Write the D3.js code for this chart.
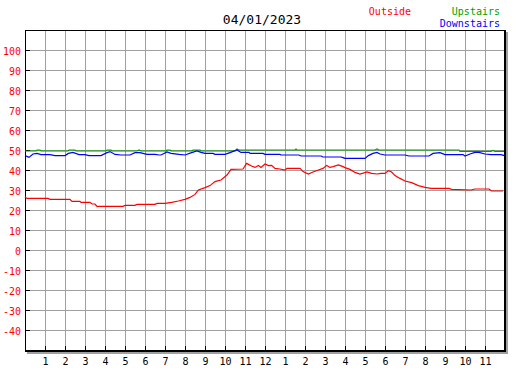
<!DOCTYPE html>
<html>
<head>
<meta charset="utf-8">
<script src="https://cdnjs.cloudflare.com/ajax/libs/d3/7.8.5/d3.min.js"></script>
<style>
  body { margin: 0; background: #fff; }
  svg { display: block; }
  text { font-family: "DejaVu Sans Mono", monospace; }
</style>
</head>
<body>
<div id="chart"></div>
<script>
// hours since midnight, readings in degrees
var outsideHours = [0, 0.1, 1.15, 1.25, 2.25, 2.35, 2.75, 2.8, 3.25, 3.35, 3.5, 3.6, 4.9, 5, 5.5, 5.6, 6.5, 6.6, 7, 7.33, 7.67, 8, 8.25, 8.5, 8.67, 9, 9.25, 9.5, 9.8, 10.1, 10.3, 10.9, 11.08, 11.33, 11.5, 11.67, 11.8, 12, 12.17, 12.33, 12.5, 12.75, 13, 13.1, 13.75, 13.9, 14.17, 14.4, 14.67, 14.9, 15.08, 15.25, 15.4, 15.67, 15.9, 16, 16.25, 16.5, 16.75, 17.1, 17.33, 17.6, 17.8, 18, 18.17, 18.33, 18.5, 18.75, 19, 19.33, 19.67, 20, 20.3, 21.2, 21.33, 22.3, 22.5, 23.2, 23.33, 23.9];
var outsideTemps = [26.5, 25.8, 25.8, 25.3, 25.3, 24.3, 24.3, 23.8, 23.8, 23, 23, 21.8, 21.8, 22.3, 22.3, 22.8, 22.8, 23.3, 23.3, 23.8, 24.5, 25.3, 26.3, 27.8, 30, 31.2, 32.2, 34.2, 35, 37.5, 40.3, 40.5, 43.3, 42, 41.3, 42.3, 41.3, 43, 42.2, 42.3, 40.8, 40.5, 40, 40.8, 40.8, 39.2, 38, 39, 40, 40.8, 42.3, 41.3, 41.7, 42.5, 41.7, 41.2, 40.3, 38.8, 38, 39, 38.3, 38, 38.3, 38.3, 39.7, 39, 37.2, 35.8, 34.5, 33.7, 32.2, 31.3, 30.8, 30.8, 30.3, 30, 30.5, 30.5, 29.5, 29.5];

var upstairsHours = [0, 0.55, 0.6, 0.75, 0.8, 2.15, 2.2, 2.5, 2.55, 4.05, 4.1, 4.3, 4.35, 5.6, 5.7, 5.8, 7.05, 7.1, 7.25, 7.3, 8.35, 8.4, 8.75, 8.8, 10.5, 10.6, 10.7, 13.5, 13.55, 13.6, 17.5, 17.6, 17.7, 21.7, 21.75, 23.3, 23.4, 23.5, 23.95];
var upstairsTemps = [49.5, 49.5, 50, 50, 49.5, 49.5, 50, 50, 49.5, 49.5, 50, 50, 49.5, 49.5, 50, 49.5, 49.5, 50, 50, 49.5, 49.5, 50, 50, 49.5, 49.5, 50.5, 50, 50, 50.5, 50, 50, 50.5, 50, 50, 49.3, 49.3, 49.8, 49.3, 49.3];

var downstairsHours = [0, 0.2, 0.4, 0.6, 0.8, 1.25, 1.5, 2, 2.17, 2.4, 2.7, 3, 3.2, 3.8, 4.1, 4.25, 4.5, 4.8, 5.25, 5.5, 5.75, 6.1, 6.5, 6.7, 6.8, 7.1, 7.3, 7.7, 8, 8.33, 8.6, 8.8, 9, 9.4, 9.5, 10, 10.25, 10.6, 10.8, 11.2, 11.25, 11.9, 12, 12.75, 12.8, 13.7, 13.8, 14.8, 14.9, 15.8, 15.9, 16, 17, 17.17, 17.4, 17.6, 17.75, 18, 19, 19.2, 20.2, 20.4, 20.75, 21, 21.9, 22, 22.25, 22.5, 22.7, 23, 23.3, 23.8, 23.97];
var downstairsTemps = [47.2, 46.3, 48, 48.3, 47.7, 47.7, 47.2, 47.2, 48.3, 48.8, 47.7, 47.7, 47.2, 47.2, 48.7, 49.2, 47.8, 47.5, 47.5, 48.7, 48.7, 47.8, 47.8, 47.5, 47.5, 49, 48.3, 47.8, 47.5, 48.7, 49.5, 48.8, 48.3, 48.3, 47.8, 47.8, 48.7, 50, 48.8, 48.8, 48.3, 48.3, 47.8, 47.8, 47.5, 47.5, 47, 47, 46.5, 46.5, 46.2, 45.8, 45.8, 47.2, 48.3, 48.8, 48, 47.5, 47.5, 47, 47, 48.3, 48.7, 47.7, 47.7, 47, 48, 48.8, 48.8, 48, 47.7, 47.7, 47.2];

var yTicks = [100, 90, 80, 70, 60, 50, 40, 30, 20, 10, 0, -10, -20, -30, -40];
var hourTicks = d3.range(1, 24);
var hourLabels = ["1", "2", "3", "4", "5", "6", "7", "8", "9", "10", "11", "12",
                  "1", "2", "3", "4", "5", "6", "7", "8", "9", "10", "11"];

var w = 527, h = 370;
var plotLeft = 25, plotRight = 505, plotTop = 30, plotBottom = 350;

var svg = d3.select("#chart").append("svg")
  .attr("width", w)
  .attr("height", h);

svg.append("rect").attr("width", w).attr("height", h).attr("fill", "#fff");

var x = d3.scaleLinear().domain([0, 24]).range([plotLeft, plotRight]);
var y = d3.scaleLinear().domain([-50, 110]).range([plotBottom, plotTop]);

// grid
var grid = svg.append("g").attr("shape-rendering", "crispEdges").attr("stroke", "#a0a0a0");
grid.selectAll("line.v").data(hourTicks).enter().append("line")
  .attr("x1", function (d) { return x(d) + 0.5; })
  .attr("x2", function (d) { return x(d) + 0.5; })
  .attr("y1", plotTop).attr("y2", plotBottom);
grid.selectAll("line.h").data(yTicks).enter().append("line")
  .attr("x1", plotLeft).attr("x2", plotRight)
  .attr("y1", function (d) { return y(d) + 0.5; })
  .attr("y2", function (d) { return y(d) + 0.5; });

// shadow and frame
var frame = svg.append("g").attr("shape-rendering", "crispEdges");
frame.append("rect").attr("x", plotRight + 1).attr("y", plotTop + 2).attr("width", 2).attr("height", plotBottom - plotTop + 2).attr("fill", "#a0a0a0");
frame.append("rect").attr("x", plotLeft + 2).attr("y", plotBottom + 2).attr("width", plotRight - plotLeft + 1).attr("height", 2).attr("fill", "#a0a0a0");
frame.append("rect").attr("x", plotLeft).attr("y", plotTop).attr("width", plotRight - plotLeft).attr("height", 1).attr("fill", "#000");
frame.append("rect").attr("x", plotLeft).attr("y", plotTop).attr("width", 1).attr("height", plotBottom - plotTop).attr("fill", "#000");
frame.append("rect").attr("x", plotRight - 1).attr("y", plotTop).attr("width", 2).attr("height", plotBottom - plotTop + 2).attr("fill", "#000");
frame.append("rect").attr("x", plotLeft).attr("y", plotBottom).attr("width", plotRight - plotLeft + 1).attr("height", 2).attr("fill", "#000");

// ticks
frame.selectAll("line.yt").data(yTicks).enter().append("line")
  .attr("x1", plotLeft).attr("x2", plotLeft + 5)
  .attr("y1", function (d) { return y(d) + 0.5; })
  .attr("y2", function (d) { return y(d) + 0.5; })
  .attr("stroke", "#000");
frame.selectAll("line.xt").data(hourTicks).enter().append("line")
  .attr("x1", function (d) { return x(d) + 0.5; })
  .attr("x2", function (d) { return x(d) + 0.5; })
  .attr("y1", plotBottom - 4).attr("y2", plotBottom)
  .attr("stroke", "#000");

// labels
svg.selectAll("text.yl").data(yTicks).enter().append("text")
  .attr("x", 21)
  .attr("y", function (d) { return y(d) + 4.5; })
  .attr("text-anchor", "end")
  .attr("font-size", "10px")
  .attr("fill", "#ff0000")
  .text(function (d) { return d; });
svg.selectAll("text.xl").data(hourTicks).enter().append("text")
  .attr("x", function (d) { return x(d) + 0.5; })
  .attr("y", 365)
  .attr("text-anchor", "middle")
  .attr("font-size", "10px")
  .attr("fill", "#000")
  .text(function (d, i) { return hourLabels[i]; });

// lines
function series(hours, temps, color) {
  var pts = hours.map(function (hr, i) { return [hr, temps[i]]; });
  var line = d3.line()
    .x(function (d) { return x(d[0]); })
    .y(function (d) { return y(d[1]); });
  svg.append("path")
    .datum(pts)
    .attr("d", line)
    .attr("fill", "none")
    .attr("stroke", color)
    .attr("stroke-width", 1.2);
}
series(upstairsHours, upstairsTemps, "#00a000");
series(downstairsHours, downstairsTemps, "#0000ff");
series(outsideHours, outsideTemps, "#ff0000");

// title and legend
svg.append("text").attr("x", 262).attr("y", 24).attr("text-anchor", "middle")
  .attr("font-size", "13px").attr("fill", "#000").text("04/01/2023");
svg.append("text").attr("x", 411).attr("y", 15).attr("text-anchor", "end")
  .attr("font-size", "10px").attr("fill", "#ff0000").text("Outside");
svg.append("text").attr("x", 500).attr("y", 15).attr("text-anchor", "end")
  .attr("font-size", "10px").attr("fill", "#00a000").text("Upstairs");
svg.append("text").attr("x", 500).attr("y", 27).attr("text-anchor", "end")
  .attr("font-size", "10px").attr("fill", "#0000ff").text("Downstairs");
</script>
</body>
</html>
